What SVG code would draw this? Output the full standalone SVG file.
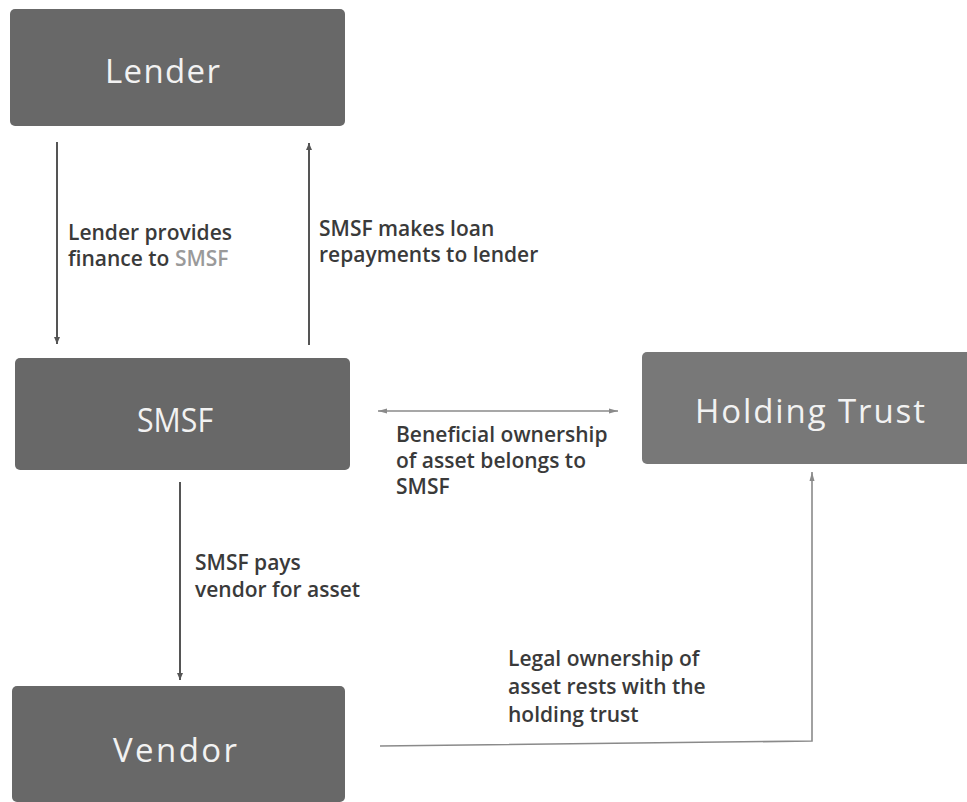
<svg xmlns="http://www.w3.org/2000/svg" width="967" height="802" viewBox="0 0 967 802">
<style>
.box{fill:#686868;}
.ht{fill:#787878;}
.nt{font-family:"Open Sans","Liberation Sans",sans-serif;font-size:33px;fill:#f2f2f2;}
.lb{font-family:"Open Sans","Liberation Sans",sans-serif;font-weight:600;font-size:21px;fill:#3a3a3a;}
.c{fill:none;stroke:#555555;stroke-width:2;}
.cl{fill:none;stroke:#8a8a8a;stroke-width:1.6;}
</style>
<defs>
<marker id="ah" markerWidth="8" markerHeight="8" refX="7" refY="4" orient="auto" markerUnits="userSpaceOnUse">
<path d="M0,1 L7,4 L0,7 z" fill="#555555"/>
</marker>
<marker id="ahl" markerWidth="10" markerHeight="8" refX="9" refY="4" orient="auto-start-reverse" markerUnits="userSpaceOnUse">
<path d="M0,1.5 L9,4 L0,6.5 z" fill="#8a8a8a"/>
</marker>
</defs>
<rect width="967" height="802" fill="#ffffff"/>
<g id="connectors">
<line class="c" x1="57" y1="142" x2="57" y2="344" marker-end="url(#ah)"/>
<line class="c" x1="309" y1="345" x2="309" y2="143" marker-end="url(#ah)"/>
<line class="cl" x1="378" y1="411" x2="618" y2="411" marker-start="url(#ahl)" marker-end="url(#ahl)"/>
<line class="c" x1="180" y1="482" x2="180" y2="680" marker-end="url(#ah)"/>
<polyline class="cl" points="380,746 812,741 812,472" marker-end="url(#ahl)"/>
<text class="lb" x="68" y="240">Lender provides</text>
<text class="lb" x="68" y="266">finance to <tspan fill="#9a9a9a">SMSF</tspan></text>
<text class="lb" x="319" y="236">SMSF makes loan</text>
<text class="lb" x="319" y="262">repayments to lender</text>
<text class="lb" x="396" y="442">Beneficial ownership</text>
<text class="lb" x="396" y="468">of asset belongs to</text>
<text class="lb" x="396" y="494">SMSF</text>
<text class="lb" x="195" y="570">SMSF pays</text>
<text class="lb" x="195" y="597">vendor for asset</text>
<text class="lb" x="508" y="666">Legal ownership of</text>
<text class="lb" x="508" y="694">asset rests with the</text>
<text class="lb" x="508" y="722">holding trust</text>
</g>
<g id="lender">
<rect class="box" x="10" y="9" width="335" height="117" rx="5"/>
<text class="nt" x="105" y="83" textLength="115" lengthAdjust="spacing">Lender</text>
</g>
<g id="smsf">
<rect class="box" x="15" y="358" width="335" height="112" rx="5"/>
<text class="nt" x="137" y="432" textLength="76" lengthAdjust="spacingAndGlyphs">SMSF</text>
</g>
<g id="holding-trust">
<rect class="ht" x="642" y="352" width="335" height="112" rx="5"/>
<text class="nt" x="695" y="423" textLength="230" lengthAdjust="spacing">Holding Trust</text>
</g>
<g id="vendor">
<rect class="box" x="12" y="686" width="333" height="116" rx="5"/>
<text class="nt" x="113" y="762" textLength="124" lengthAdjust="spacing">Vendor</text>
</g>
</svg>
